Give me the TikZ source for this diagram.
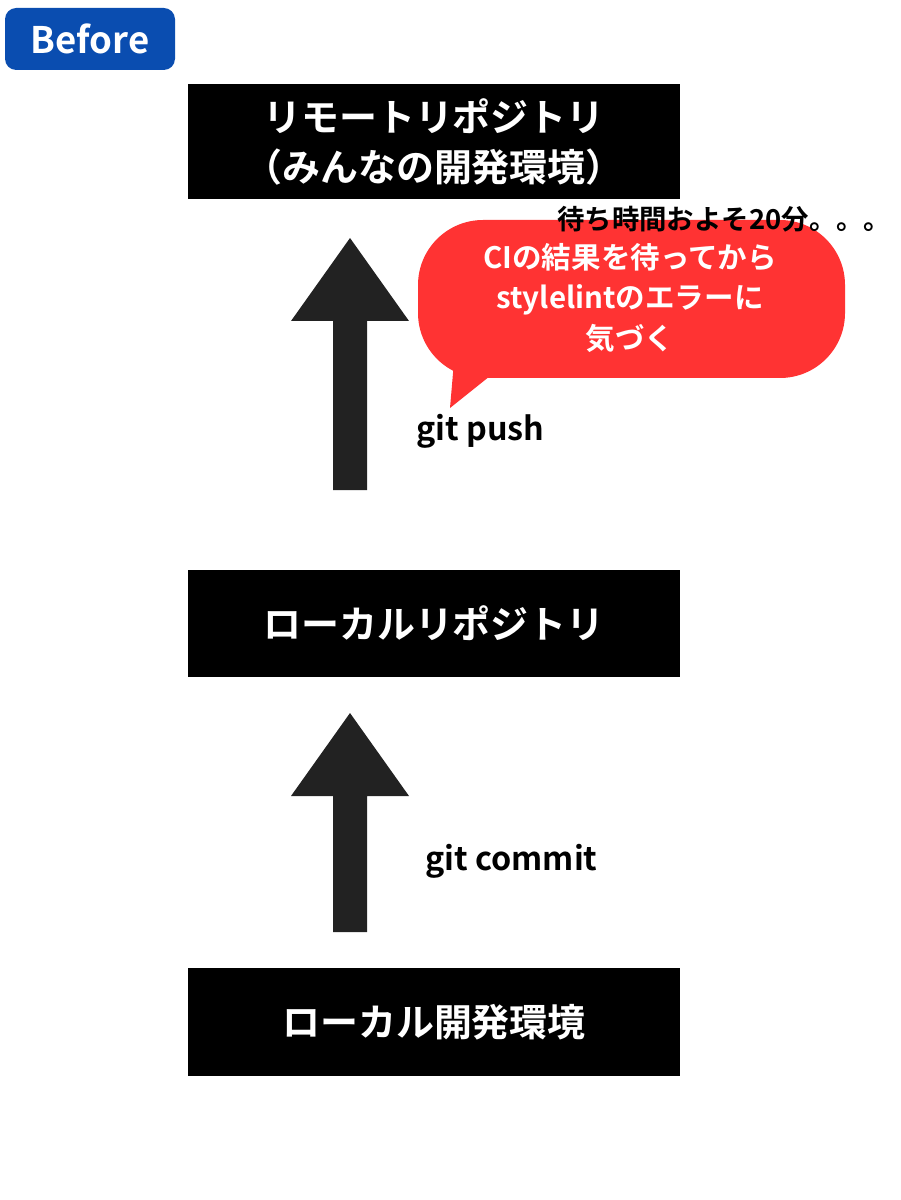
\documentclass[tikz,border=0pt]{standalone}
\usepackage{fontspec}
\setmainfont{Noto Sans CJK JP}[BoldFont={* Bold}]
\definecolor{badgeblue}{HTML}{0A4DB0}
\definecolor{bubblered}{HTML}{FF3333}
\definecolor{arrowgray}{HTML}{222222}
\begin{document}
\begin{tikzpicture}[x=0.025cm,y=-0.025cm,
        box/.style={fill=black, text=white, font=\bfseries\fontsize{27}{36}\selectfont, align=center, minimum width=492*0.025cm, inner sep=0pt},
        lbl/.style={font=\bfseries\fontsize{23}{26}\selectfont, anchor=west, inner sep=0pt}
    ]
        \useasboundingbox (0,0) rectangle (900,1200);
        % 見出し
        \node[fill=badgeblue, text=white, rounded corners=8pt, minimum width=170*0.025cm, minimum height=62*0.025cm, font=\bfseries\fontsize{26}{30}\selectfont] (before) at (90,39) {Before};

        % ボックス
        \node[box, minimum height=115*0.025cm] (remote) at (434,142) {リモートリポジトリ\\（みんなの開発環境）};
        \node[box, minimum height=107*0.025cm] (local) at (434,623) {ローカルリポジトリ};
        \node[box, minimum height=108*0.025cm] (dev) at (434,1022) {ローカル開発環境};

        % 矢印
        \fill[arrowgray] (333,490) -- (333,321) -- (291,321) -- (350,238) -- (409,321) -- (367,321) -- (367,490) -- cycle;
        \fill[arrowgray] (333,932) -- (333,796) -- (291,796) -- (350,713) -- (409,796) -- (367,796) -- (367,932) -- cycle;

        \node[lbl] (push) at (416,431) {git push};
        \node[lbl] (commit) at (425,861) {git commit};

        % 吹き出し
        \fill[bubblered, rounded corners=65*0.025cm] (418,220) rectangle (845,378);
        \fill[bubblered] (455,350) -- (450,408) -- (495,372) -- cycle;
        \node[text=white, align=center, font=\bfseries\fontsize{21}{29}\selectfont] (ci) at (630,298) {CIの結果を待ってから\\stylelintのエラーに\\気づく};
        \node[lbl, font=\bfseries\fontsize{19.5}{22}\selectfont] (wait) at (557,219) {待ち時間およそ20分。。。};
    \end{tikzpicture}
\end{document}
